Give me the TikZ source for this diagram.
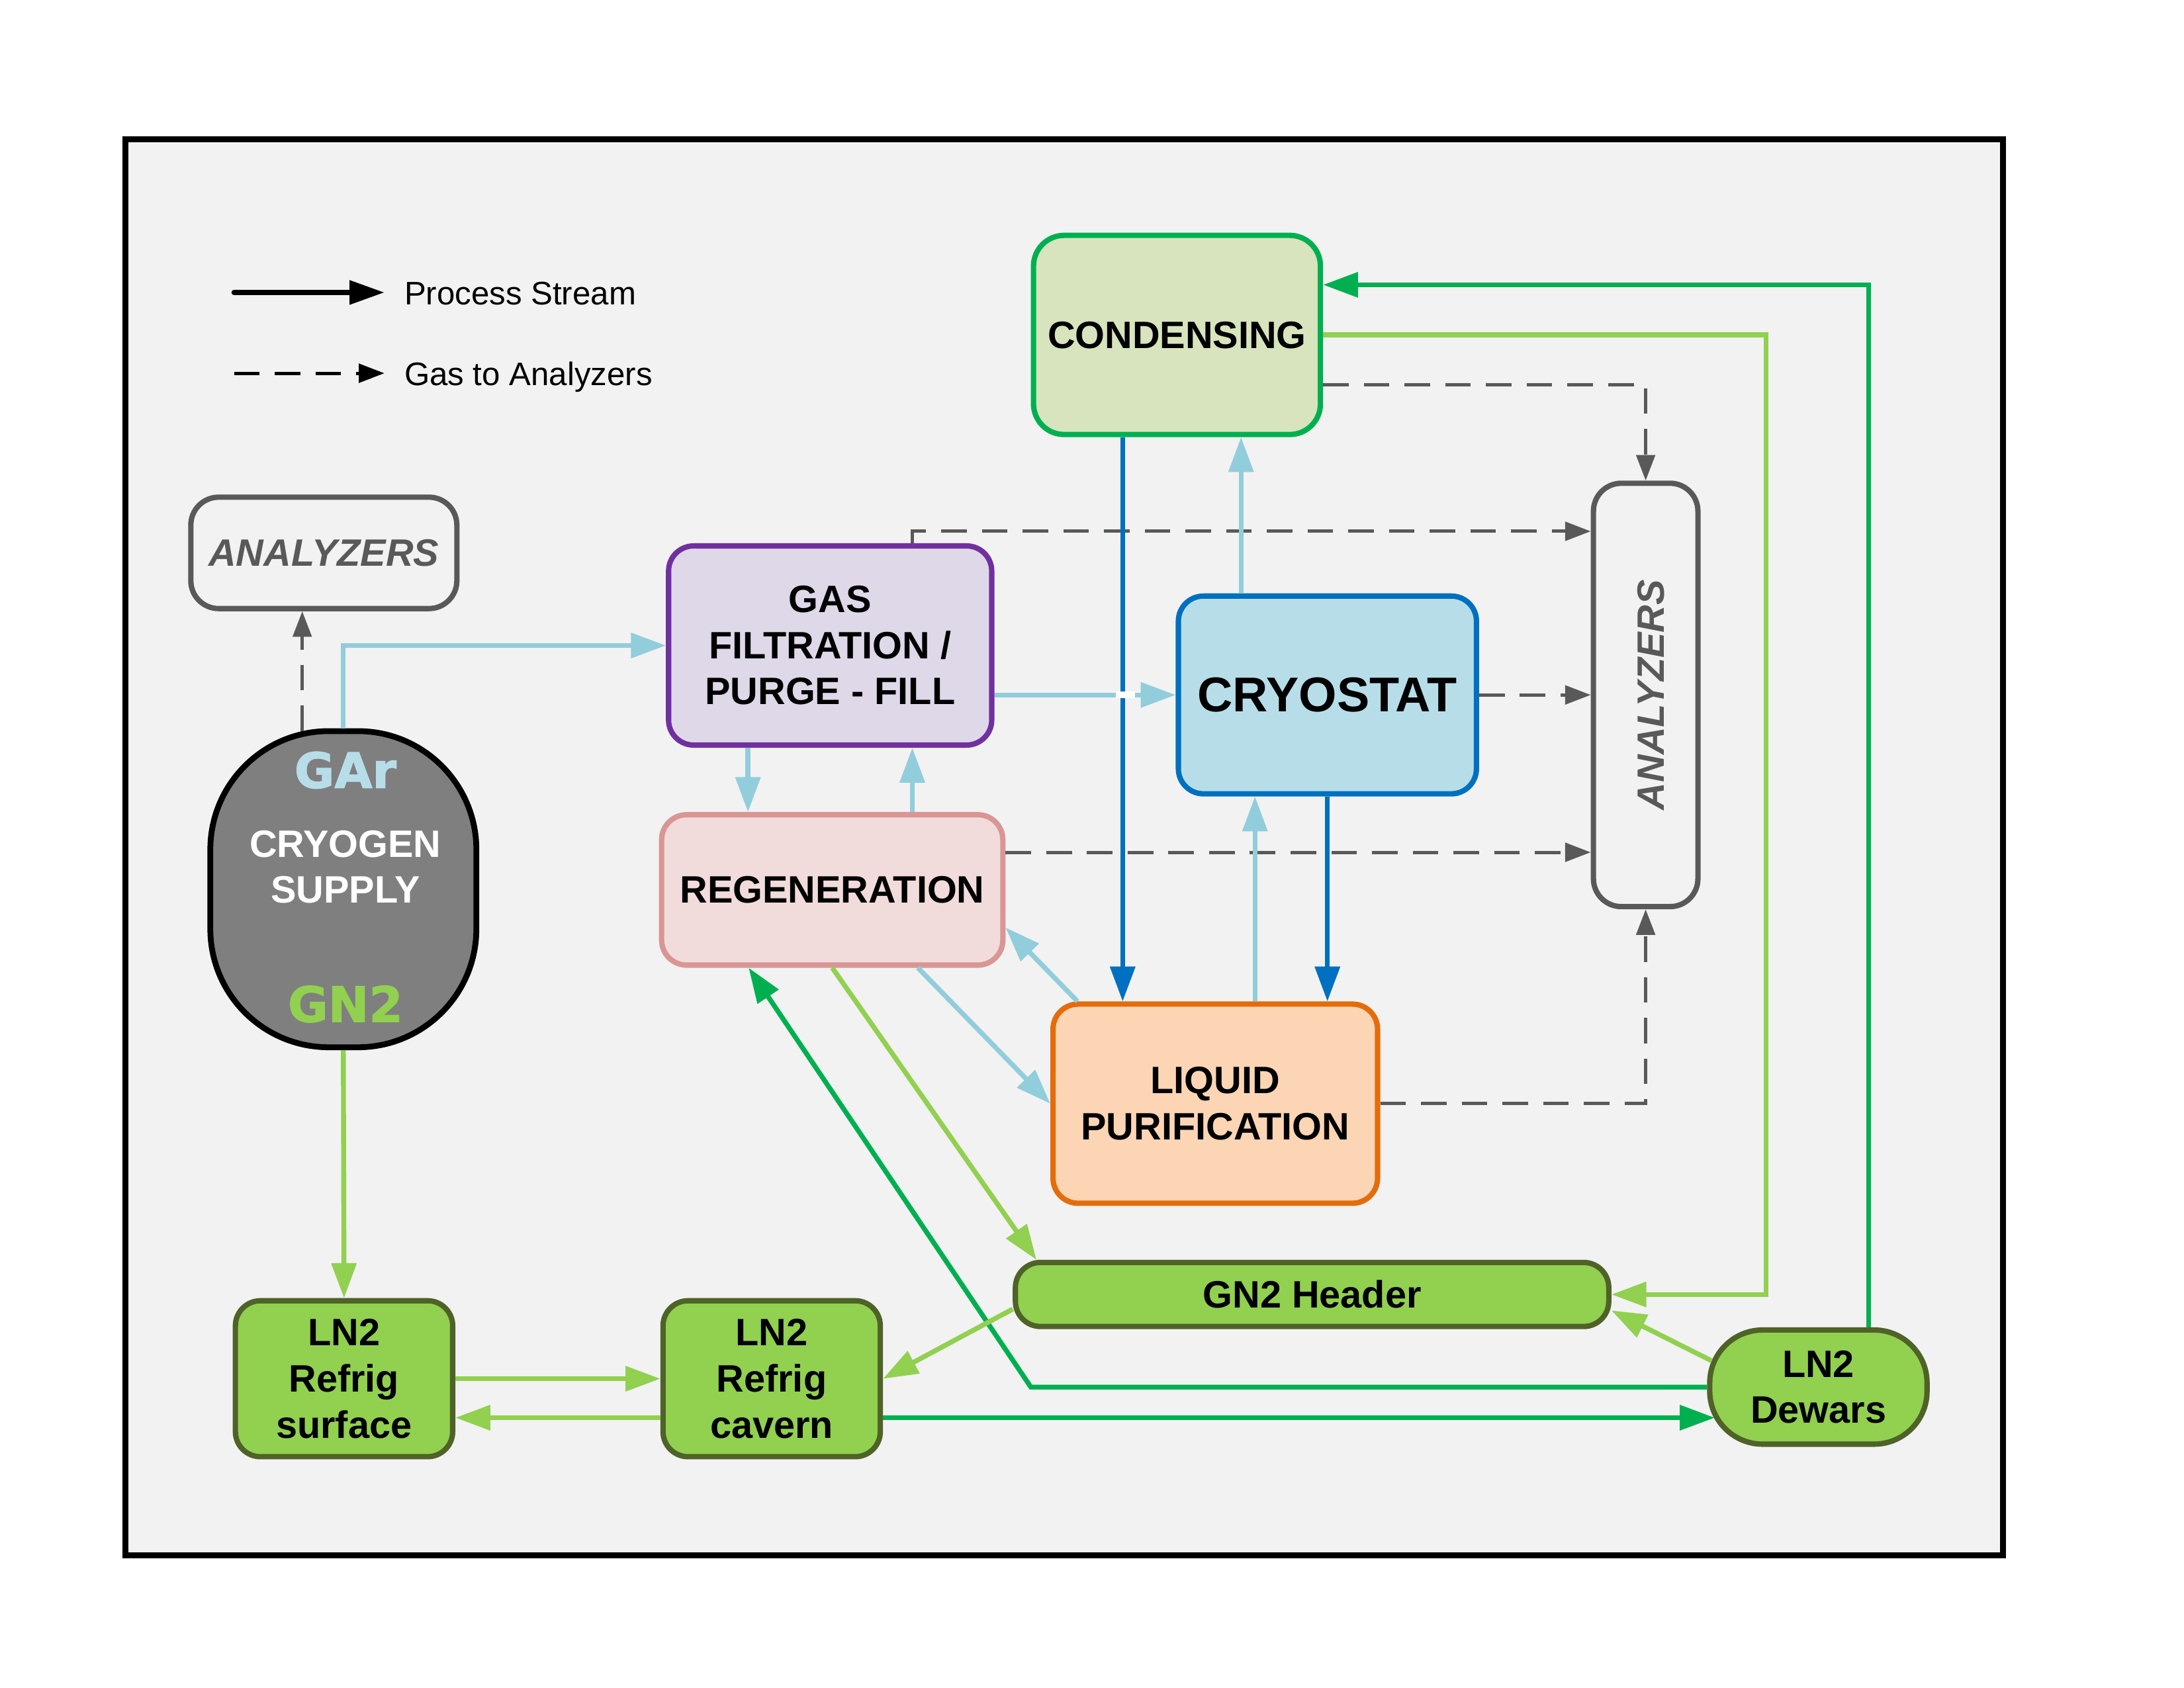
\documentclass[tikz,border=0pt]{standalone}
\usepackage{fontspec}
\setmainfont{Liberation Sans}
\newfontfamily\heavyfont{DejaVu Sans}[BoldFeatures={FakeBold=1.6}]
\usetikzlibrary{arrows.meta,calc}
\newlength\pxu
\setlength\pxu{0.021046cm}
\definecolor{bgray}{HTML}{F2F2F2}
\definecolor{lblue}{HTML}{92CDDC}
\definecolor{dblue}{HTML}{0070C0}
\definecolor{lgreen}{HTML}{92D050}
\definecolor{dgreen}{HTML}{00B050}
\definecolor{dgray}{HTML}{595959}
\definecolor{ogreen}{HTML}{4F6228}
\definecolor{condfill}{HTML}{D7E4BD}
\definecolor{gffill}{HTML}{DFD8E8}
\definecolor{gfdraw}{HTML}{7030A0}
\definecolor{cryofill}{HTML}{B7DEE8}
\definecolor{regfill}{HTML}{F2DCDB}
\definecolor{regdraw}{HTML}{D99694}
\definecolor{lpfill}{HTML}{FCD5B5}
\definecolor{lpdraw}{HTML}{E46C0A}
\definecolor{cgray}{HTML}{7F7F7F}
\newcommand\boxfont{\fontsize{16.4}{19.8}\selectfont\bfseries}
\newcommand\anafont{\fontsize{16.4}{19.8}\selectfont\bfseries\itshape}
\newcommand\legfont{\fontsize{14}{17}\selectfont}
\newcommand\bigfont{\fontsize{21}{25}\selectfont\heavyfont\bfseries}
\tikzset{
  box/.style={draw, line width=2.3pt, rounded corners=18*\pxu, inner sep=0pt, align=center, font=\boxfont},
  grbox/.style={box, draw=ogreen, fill=lgreen},
  anabox/.style={box, draw=dgray, fill=bgray},
  arr/.style={-{Triangle[length=15pt,width=10.5pt]}},
  darr/.style={-{Triangle[length=11pt,width=8pt]}},
  lb/.style={draw=lblue, line width=2.1pt, arr},
  db/.style={draw=dblue, line width=2.1pt, arr},
  lg/.style={draw=lgreen, line width=2.1pt, arr},
  dg/.style={draw=dgreen, line width=2.1pt, arr},
  dsh/.style={draw=dgray, line width=1.4pt, dash pattern=on 11pt off 6.5pt, darr}
}
\begin{document}
\begin{tikzpicture}[x=0.021046cm,y=-0.021046cm]
\useasboundingbox (0,0) rectangle (1568,1211.7);
\fill[white] (0,0) rectangle (1568,1211.7);
\node[draw=black, fill=bgray, line width=2.6pt, minimum width=1348*\pxu, minimum height=1017*\pxu, inner sep=0pt] (frame) at (764,608.5) {};

% legend
\coordinate (ps1) at (168,210);
\coordinate (ps2) at (276,210);
\draw[line width=2.2pt, line cap=round, -{Triangle[length=15pt,width=10pt]}] (ps1) -- (ps2);
\node[anchor=base west, font=\legfont, inner sep=0pt] (pstxt) at (290,219) {Process Stream};
\coordinate (ga1) at (168,268);
\coordinate (ga2) at (276,268);
\draw[line width=1.4pt, dash pattern=on 11pt off 6.5pt, -{Triangle[length=11pt,width=8pt]}] (ga1) -- (ga2);
\node[anchor=base west, font=\legfont, inner sep=0pt] (gatxt) at (290,277) {Gas to Analyzers};

% nodes
\node[box, draw=dgreen, fill=condfill, rounded corners=22*\pxu, minimum width=206*\pxu, minimum height=143*\pxu] (cond) at (845,240.5) {CONDENSING};
\node[box, draw=gfdraw, fill=gffill, minimum width=232*\pxu, minimum height=143*\pxu] (gf) at (596,463.5) {GAS\\FILTRATION /\\PURGE - FILL};
\node[box, draw=dblue, fill=cryofill, minimum width=214*\pxu, minimum height=142*\pxu, font=\fontsize{21}{25}\selectfont\bfseries] (cryo) at (953,499) {CRYOSTAT};
\node[anabox, rounded corners=20*\pxu, minimum width=75*\pxu, minimum height=304*\pxu] (ana2) at (1181.5,499) {};
\node[rotate=90, font=\anafont, text=dgray, inner sep=0pt] (ana2txt) at ($(ana2.center)+(4,0)$) {ANALYZERS};
\node[anabox, rounded corners=20*\pxu, minimum width=191*\pxu, minimum height=80*\pxu, font=\anafont, text=dgray] (ana1) at (232.5,397) {ANALYZERS};
\node[box, draw=regdraw, fill=regfill, minimum width=245*\pxu, minimum height=108*\pxu] (regen) at (597.5,639) {REGENERATION};
\node[box, draw=lpdraw, fill=lpfill, minimum width=233*\pxu, minimum height=143*\pxu] (lp) at (872.5,792.5) {LIQUID\\PURIFICATION};
\node[grbox, minimum width=426*\pxu, minimum height=46*\pxu] (gn2h) at (942,929.5) {GN2 Header};
\node[grbox, minimum width=156*\pxu, minimum height=112*\pxu] (surf) at (247,990) {LN2\\Refrig\\surface};
\node[grbox, minimum width=156*\pxu, minimum height=112*\pxu] (cav) at (554,990) {LN2\\Refrig\\cavern};
\node[grbox, rounded corners=38*\pxu, minimum width=156*\pxu, minimum height=82*\pxu] (dew) at (1305.5,996) {LN2\\Dewars};
\node[draw=black, fill=cgray, line width=2.5pt, rounded corners=85*\pxu, minimum width=191*\pxu, minimum height=227*\pxu, inner sep=0pt] (cry) at (246.5,638.5) {};
\node[font=\bigfont, text=cryofill, inner sep=0pt] (gartxt) at ($(cry.center)+(1.5,-85.5)$) {GAr};
\node[font=\boxfont, text=white, align=center, inner sep=0pt] (cstxt) at ($(cry.center)+(1.5,-16)$) {CRYOGEN\\SUPPLY};
\node[font=\bigfont, text=lgreen, inner sep=0pt] (gn2txt) at ($(cry.center)+(1.5,82.5)$) {GN2};

% dashed gas to analyzers
\draw[dsh] ($(cond.east)+(0,36)$) -| (ana2.north);
\draw[dsh] ($(gf.north)+(59,0)$) |- ($(ana2.west)+(0,-117.5)$);
\draw[dsh] (cryo.east) -- (ana2.west);
\draw[dsh] ($(regen.east)+(0,-27)$) -- ($(ana2.west)+(0,113)$);
\draw[dsh] (lp.east) -| (ana2.south);
\draw[dsh] ($(cry.north)+(-29.5,2)$) -- ($(ana1.south)+(-15.5,0)$);

% dark green
\draw[dg] (dew.west) -- ($(gn2h.west |- dew.west)+(13,0)$) -- ($(regen.south)+(-60,0)$);
\draw[dg] ($(dew.north)+(36,0)$) |- ($(cond.east)+(0,-36)$);
\draw[dg] ($(cav.east)+(0,28)$) -- ($(dew.west)+(5.5,22)$);

% light green
\draw[lg] (cond.east) -| ($(gn2h.east)+(111,0)$) -- (gn2h.east);
\draw[lg] (regen.south) -- ($(gn2h.north west)+(17,0)$);
\draw[lg] ($(dew.west)+(3,-19)$) -- ($(gn2h.east)+(0,11.5)$);
\draw[lg] ($(gn2h.west)+(0,10.5)$) -- (cav.east);
\draw[lg] (surf.east) -- (cav.west);
\draw[lg] ($(cav.west)+(0,28)$) -- ($(surf.east)+(0,28)$);
\draw[lg] (cry.south) -- (surf.north);

% dark blue
\draw[db] ($(cond.south)+(-39,0)$) -- ($(lp.north)+(-66.5,0)$);
\draw[db] (cryo.south) -- ($(lp.north)+(80.5,0)$);

% light blue
\draw[lb] ($(cryo.north)+(-62,0)$) -- ($(cond.south)+(46,0)$);
\draw[lb] ($(lp.north)+(28.5,0)$) -- ($(cryo.south)+(-52,0)$);
\draw[lb] ($(gf.east)+(0,35.5)$) -- (cryo.west);
\draw[white, line width=2.7pt] ($(gf.east)+(87,35.5)$) -- ($(gf.east)+(101,35.5)$);
\draw[lb] ($(gf.south)+(-59,0)$) -- ($(regen.north)+(-60.5,0)$);
\draw[lb] ($(regen.north)+(57.5,0)$) -- ($(gf.south)+(59,0)$);
\draw[lb] ($(lp.north west)+(19.5,0)$) -- ($(regen.east)+(0,27)$);
\draw[lb] ($(regen.south)+(61.5,0)$) -- (lp.west);
\draw[lb] (cry.north) |- (gf.west);
\end{tikzpicture}
\end{document}
